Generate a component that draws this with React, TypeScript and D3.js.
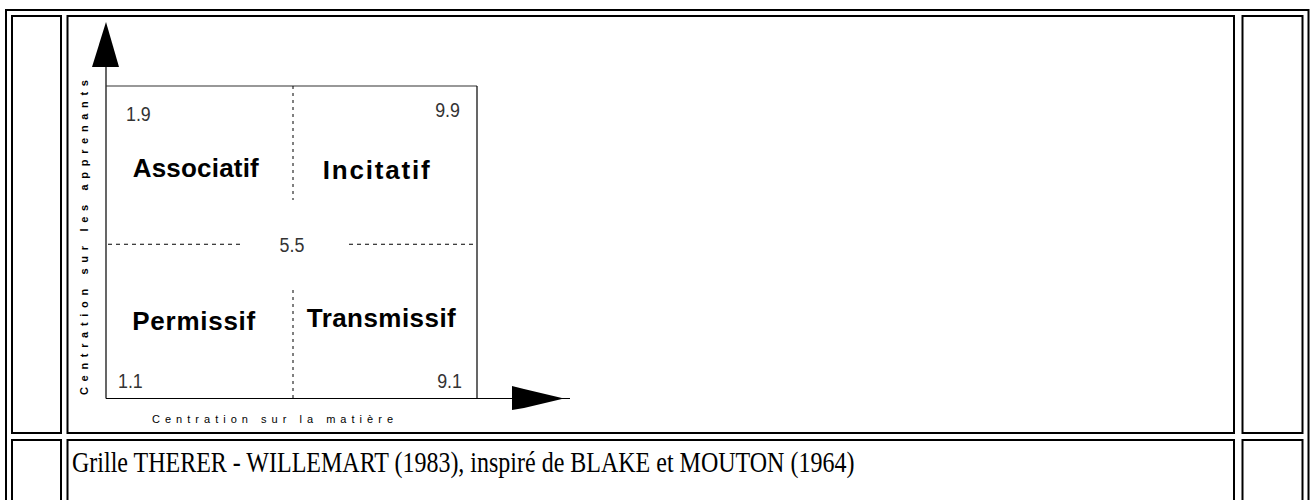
import React from "react";
import * as d3 from "d3";

// ---- data ----
const quadrantNames = ["Associatif", "Incitatif", "Permissif", "Transmissif"];
const quadrantCenters: [number, number][] = [
  [2.5, 7.5],
  [7.5, 7.5],
  [2.5, 2.5],
  [7.5, 2.5],
];
const cornerLabels = ["1.9", "9.9", "5.5", "1.1", "9.1"];
const xAxisTitle = "Centration sur la matière";
const yAxisTitle = "Centration  sur  les  apprenants";
const caption = "Grille THERER - WILLEMART (1983), inspiré de BLAKE et MOUTON (1964)";

// ---- layout ----
const W = 1310;
const H = 500;
const box = { left: 106, right: 477, top: 86, bottom: 398.5 };

const quadLayout = [
  { dx: -3, baseline: 177, width: 126 },
  { dx: -8, baseline: 179, width: 107 },
  { dx: -5, baseline: 330, width: 123 },
  { dx: -3, baseline: 327, width: 149 },
];
const cornerLayout = [
  { x: 126, y: 121, anchor: "start" },
  { x: 460, y: 117, anchor: "end" },
  { x: 292, y: 252, anchor: "middle" },
  { x: 118, y: 388, anchor: "start" },
  { x: 462, y: 388, anchor: "end" },
];

export default function App() {
  const x = d3.scaleLinear().domain([0, 10]).range([box.left, box.right]);
  const y = d3.scaleLinear().domain([0, 10]).range([box.bottom, box.top]);
  const midX = x(5) + 1.5;
  const midY = y(5) + 2;

  const line = d3.line();

  const sans = "'Liberation Sans', Arial, sans-serif";
  const b = 2;

  return (
    <svg
      width={W}
      height={H}
      viewBox={`0 0 ${W} ${H}`}
      style={{ position: "absolute", left: 0, top: 0, background: "#fff" }}
    >
      <rect x={0} y={0} width={W} height={H} fill="#fff" />
      {/* table borders */}
      <g fill="none" stroke="#000" strokeWidth={b}>
        <rect x={6} y={10} width={1302.5} height={520} />
        <rect x={12} y={16} width={49} height={417} />
        <rect x={67.5} y={16} width={1166.5} height={417} />
        <rect x={1242.5} y={16} width={60} height={417} />
        <rect x={12} y={440} width={49} height={100} />
        <rect x={67.5} y={440} width={1166.5} height={100} />
        <rect x={1242.5} y={440} width={60} height={100} />
      </g>

      {/* axes */}
      <g stroke="#000" strokeWidth={1.2} fill="none">
        <path d={line([[box.left, 62], [box.left, box.bottom]]) || ""} />
        <path d={line([[box.left, box.bottom], [570, box.bottom]]) || ""} />
        <path d={line([[box.left, box.top], [box.right, box.top]]) || ""} stroke="#333" />
        <path d={line([[box.right, box.top], [box.right, box.bottom]]) || ""} />
      </g>
      {/* arrows */}
      <polygon points={`${box.left},22 ${box.left - 14},67 ${box.left + 13},67`} fill="#000" />
      <polygon points={`512,386 524,389 564,${box.bottom} 524,408 512,410`} fill="#000" />

      {/* dashed dividers */}
      <g stroke="#000" strokeWidth={1} fill="none">
        <path d={line([[midX, box.top], [midX, 200]]) || ""} strokeDasharray="3,4" />
        <path d={line([[midX, 290], [midX, box.bottom]]) || ""} strokeDasharray="3,4" />
        <path d={line([[108, midY], [241, midY]]) || ""} strokeDasharray="4,4" />
        <path d={line([[349, midY], [box.right, midY]]) || ""} strokeDasharray="4,4" />
      </g>

      {/* corner values */}
      {cornerLabels.map((t, i) => (
        <text
          key={t}
          transform={`translate(${cornerLayout[i].x},${cornerLayout[i].y}) scale(0.85,1)`}
          textAnchor={cornerLayout[i].anchor as any}
          fontFamily={sans}
          fontSize={21}
          fill="#333"
        >
          {t}
        </text>
      ))}

      {/* quadrant labels */}
      {quadrantNames.map((t, i) => (
        <text
          key={t}
          x={x(quadrantCenters[i][0]) + quadLayout[i].dx}
          y={quadLayout[i].baseline}
          textAnchor="middle"
          fontFamily={sans}
          fontWeight="bold"
          fontSize={26}
          textLength={quadLayout[i].width}
          lengthAdjust="spacing"
          fill="#000"
        >
          {t}
        </text>
      ))}

      {/* axis titles */}
      <text
        transform={`translate(88,395) rotate(-90)`}
        fontFamily={sans}
        fontWeight="bold"
        fontSize={11}
        textLength={315}
        lengthAdjust="spacing"
        fill="#000"
      >
        {yAxisTitle}
      </text>
      <text
        x={152}
        y={423}
        fontFamily={sans}
        fontSize={11}
        textLength={241}
        lengthAdjust="spacing"
        fill="#000"
      >
        {xAxisTitle}
      </text>

      {/* caption */}
      <text
        transform="translate(72,472) scale(0.8,1)"
        fontFamily="'Liberation Serif', 'Times New Roman', serif"
        fontSize={30}
        fill="#000"
      >
        {caption}
      </text>
    </svg>
  );
}
